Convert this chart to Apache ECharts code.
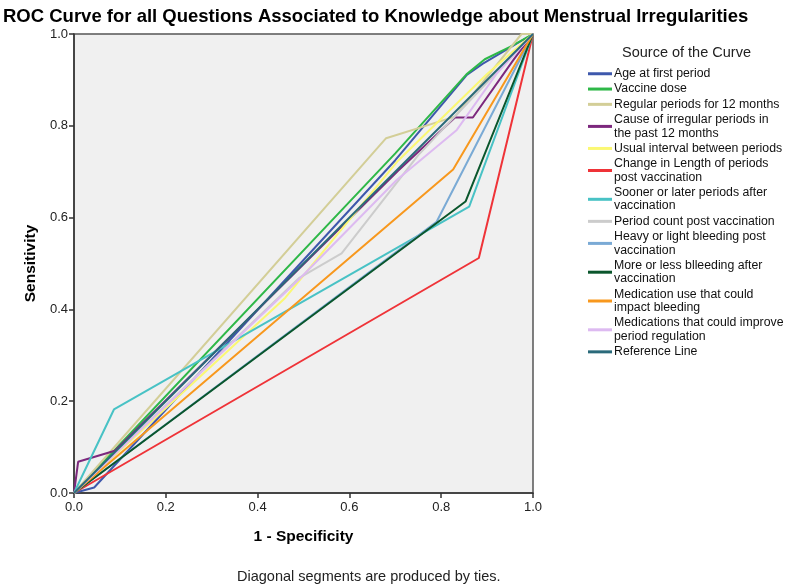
<!DOCTYPE html>
<html>
<head>
<meta charset="utf-8">
<script src="https://cdn.jsdelivr.net/npm/echarts@6/dist/echarts.min.js"></script>
<style>html,body{margin:0;padding:0;background:#fff}#c{width:790px;height:585px}</style>
</head>
<body>
<div id="c"></div>
<script>
var seriesNames = [
  'Age at first period',
  'Vaccine dose',
  'Regular periods for 12 months',
  'Cause of irregular periods in the past 12 months',
  'Usual interval between periods',
  'Change in Length of periods post vaccination',
  'Sooner or later periods after vaccination',
  'Period count post vaccination',
  'Heavy or light bleeding post vaccination',
  'More or less blleeding after vaccination',
  'Medication use that could impact bleeding',
  'Medications that could improve period regulation',
  'Reference Line'
];
var legendLabels = [
  'Age at first period',
  'Vaccine dose',
  'Regular periods for 12 months',
  'Cause of irregular periods in\nthe past 12 months',
  'Usual interval between periods',
  'Change in Length of periods\npost vaccination',
  'Sooner or later periods after\nvaccination',
  'Period count post vaccination',
  'Heavy or light bleeding post\nvaccination',
  'More or less blleeding after\nvaccination',
  'Medication use that could\nimpact bleeding',
  'Medications that could improve\nperiod regulation',
  'Reference Line'
];
var colors = ['#3e58ac','#2eb848','#d3ce97','#7c287d','#fbf873','#ef3338','#48c2c5','#cccccc','#7aaad5','#0a562c','#f8981d','#ddbaf1','#2a6a7a'];

var ageFirstPeriod   = [[0,0],[0.044,0.012],[0.70,0.725],[0.855,0.91],[0.89,0.935],[1,1]];
var vaccineDose      = [[0,0],[0.70,0.74],[0.855,0.912],[0.895,0.945],[0.95,0.972],[1,1]];
var regularPeriods   = [[0,0],[0.68,0.773],[0.83,0.82],[0.975,1],[1,1]];
var causeIrregular   = [[0,0],[0.009,0.068],[0.089,0.092],[0.706,0.702],[0.83,0.818],[0.869,0.818],[0.957,0.943],[1,1]];
var usualInterval    = [[0,0],[0.46,0.425],[0.706,0.724],[0.9,0.913],[1,1]];
var changeLength     = [[0,0],[0.882,0.512],[1,1]];
var soonerLater      = [[0,0],[0.087,0.182],[0.861,0.624],[1,1]];
var periodCount      = [[0,0],[0.49,0.468],[0.583,0.522],[0.75,0.736],[1,1]];
var heavyLight       = [[0,0],[0.79,0.591],[1,1]];
var moreLess         = [[0,0],[0.853,0.635],[1,1]];
var medicationUse    = [[0,0],[0.826,0.705],[1,1]];
var medsImprove      = [[0,0],[0.49,0.465],[0.703,0.682],[0.834,0.791],[0.921,0.914],[1,1]];
var referenceLine    = [[0,0],[1,1]];

var allData = [ageFirstPeriod, vaccineDose, regularPeriods, causeIrregular, usualInterval, changeLength,
  soonerLater, periodCount, heavyLight, moreLess, medicationUse, medsImprove, referenceLine];
var tickValues = [0, 0.2, 0.4, 0.6, 0.8, 1.0];

var font = 'Liberation Sans, Arial, sans-serif';
var chart = echarts.init(document.getElementById('c'));
var series = seriesNames.map(function(n, i){
  return {
    name: n, type: 'line', data: allData[i], symbol: 'none',
    lineStyle: {width: 2, color: colors[i]}, itemStyle: {color: colors[i]},
    animation: false, z: 2
  };
});
var labelMap = {};
seriesNames.forEach(function(n,i){ labelMap[n] = legendLabels[i]; });

chart.setOption({
  animation: false,
  title: [
    {text: 'ROC Curve for all Questions Associated to Knowledge about Menstrual Irregularities',
     left: -2, top: 2, textStyle: {fontFamily: font, fontSize: 18.5, fontWeight: 'bold', color: '#000'}},
    {text: 'Source of the Curve', left: 617, top: 40,
     textStyle: {fontFamily: font, fontSize: 14.5, fontWeight: 'normal', color: '#222'}},
    {text: 'Diagonal segments are produced by ties.', left: 232, top: 564,
     textStyle: {fontFamily: font, fontSize: 14.5, fontWeight: 'normal', color: '#222'}}
  ],
  legend: {
    orient: 'vertical', left: 583, top: 62, itemWidth: 24, itemHeight: 3, itemGap: 1.8,
    icon: 'rect', data: seriesNames, selectedMode: false,
    formatter: function(n){ return labelMap[n]; },
    textStyle: {fontFamily: font, fontSize: 12.3, color: '#111', lineHeight: 13.5, padding: [0,0,0,-3]}
  },
  grid: {left: 74, top: 34, width: 459, height: 459, show: true, backgroundColor: '#f0f0f0', borderColor: '#555', borderWidth: 1.5},
  xAxis: {
    type: 'value', min: 0, max: 1, interval: 0.2,
    name: '1 - Specificity', nameLocation: 'middle', nameGap: 36,
    nameTextStyle: {fontFamily: font, fontSize: 15.5, fontWeight: 'bold', color: '#000'},
    axisLine: {lineStyle: {color: '#333', width: 1.5}},
    axisTick: {length: 5, lineStyle: {color: '#333', width: 1.5}},
    axisLabel: {fontFamily: font, fontSize: 13, color: '#222', margin: 8, formatter: function(v){return v.toFixed(1);}},
    splitLine: {show: false}
  },
  yAxis: {
    type: 'value', min: 0, max: 1, interval: 0.2,
    name: 'Sensitivity', nameLocation: 'middle', nameGap: 21, nameRotate: 90,
    nameTextStyle: {fontFamily: font, fontSize: 15.5, fontWeight: 'bold', color: '#000'},
    axisLine: {lineStyle: {color: '#333', width: 1.5}},
    axisTick: {length: 5, lineStyle: {color: '#333', width: 1.5}},
    axisLabel: {fontFamily: font, fontSize: 13, color: '#222', margin: 6, formatter: function(v){return v.toFixed(1);}},
    splitLine: {show: false}
  },
  series: series
});
</script>
</body>
</html>
